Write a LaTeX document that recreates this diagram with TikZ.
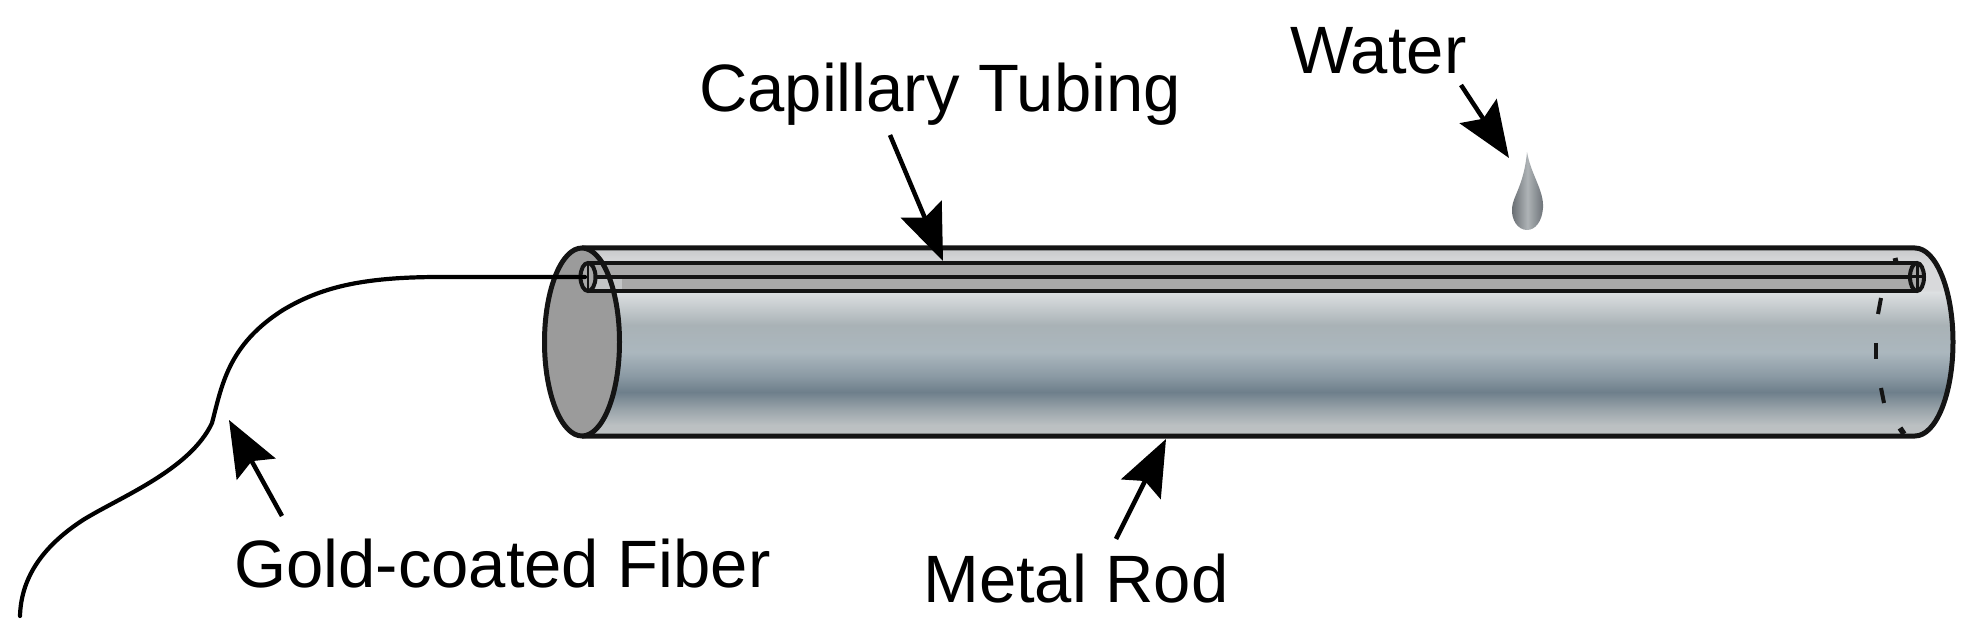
\documentclass[tikz,border=0pt]{standalone}
\usepackage{fontspec}
\setmainfont{Liberation Sans}
\usetikzlibrary{arrows.meta}
\definecolor{inkc}{HTML}{141414}
\definecolor{capc}{HTML}{9B9B9B}
\definecolor{tubec}{HTML}{A9A9A9}
\definecolor{tubel}{HTML}{C4C6C7}
\definecolor{ra}{HTML}{BDC1C2}
\definecolor{rb}{HTML}{BBC0C2}
\definecolor{rc}{HTML}{9BA5AB}
\definecolor{rd}{HTML}{6E7F8B}
\definecolor{re}{HTML}{8B9AA4}
\definecolor{rf}{HTML}{ABB7BE}
\definecolor{rg}{HTML}{A9B2B6}
\definecolor{rh}{HTML}{DDE0E2}
\definecolor{ri}{HTML}{D8D9DB}
\definecolor{rj}{HTML}{C8C9CB}
\definecolor{da}{HTML}{666B70}
\definecolor{db}{HTML}{AEB3B6}
\definecolor{dc}{HTML}{6A7075}
\pgfdeclareverticalshading{rodshade}{100bp}{
  color(0bp)=(ra);
  color(25bp)=(ra);
  color(27.9bp)=(rb);
  color(31.9bp)=(rc);
  color(36.7bp)=(rd);
  color(41bp)=(re);
  color(47.3bp)=(rf);
  color(54.5bp)=(rg);
  color(63.3bp)=(rh);
  color(64bp)=(ri);
  color(71bp)=(ri);
  color(75bp)=(rj);
  color(100bp)=(rj)}
\pgfdeclarehorizontalshading{dropshade}{100bp}{
  color(0bp)=(da);
  color(25bp)=(da);
  color(50bp)=(db);
  color(75bp)=(dc);
  color(100bp)=(dc)}
\tikzset{
  x=1pt,y=-1pt,
  lbl/.style={font=\fontsize{67}{72}\selectfont,text=black,inner sep=0pt,anchor=base west},
  outline/.style={draw=inkc,line width=5pt},
  tubeline/.style={draw=inkc,line width=4.6pt},
  fiber/.style={draw=black,line width=4.2pt,line cap=round},
  pointer/.style={draw=black,line width=4.5pt,-{Stealth[length=56pt,width=44pt,inset=9pt]}},
  backpart/.style={draw=inkc,line width=4pt}
}
\begin{document}
\begin{tikzpicture}
\useasboundingbox (0,0) rectangle (1966,636);
% rod body
\path[shading=rodshade] (582,248) -- (1915,248) arc[start angle=-90,end angle=90,x radius=38,y radius=94] -- (582,436) -- cycle;
\draw[outline] (582,248) -- (1915,248) arc[start angle=-90,end angle=90,x radius=38,y radius=94] -- (582,436);
% end cap fill
\fill[capc] (582,342) ellipse[x radius=37.5,y radius=94];
% capillary tube
\fill[tubec] (588,263) rectangle (1917,291);
\fill[tubel] (590,279) rectangle (622,291);
\draw[tubeline] (588,263) -- (1917,263);
\draw[tubeline] (588,291) -- (1917,291);
\draw[tubeline] (588,277) -- (1917,277);
% tube ends
\draw[tubeline,line width=4pt,fill=tubec] (588,277) ellipse[x radius=7.5,y radius=14];
\draw[line width=2.5pt,draw=inkc] (588,263) -- (588,291);
\draw[tubeline,line width=4pt,fill=tubec] (1917,277) ellipse[x radius=7,y radius=14];
\draw[line width=3pt,draw=inkc] (1917,263) -- (1917,291) (1910,277) -- (1924,277);
% hidden far rim
\draw[backpart] (1881,298) -- (1878,314);
\draw[backpart] (1875.5,343) -- (1875.5,359);
\draw[backpart] (1881,388) -- (1884,403);
\draw[backpart,line width=5pt] (1895,258) -- (1896,262);
\draw[backpart,line width=5.5pt] (1900,428) -- (1904,434);
% end cap outline
\draw[outline] (582,342) ellipse[x radius=37.5,y radius=94];
% fibre
\coordinate (fibA) at (20,616);
\coordinate (fibB) at (585,277);
\draw[fiber] (fibA) .. controls (21,580) and (40,548) .. (83,520)
  .. controls (120,497) and (190,470) .. (212,423)
  .. controls (222,385) and (228,345) .. (283,310)
  .. controls (320,288) and (360,277) .. (440,277) -- (fibB);
% drop
\path[shading=dropshade] (1527,152) .. controls (1531,175) and (1544,190) .. (1543,208)
  .. controls (1542,222) and (1535,230) .. (1527,230)
  .. controls (1518,230) and (1511,220) .. (1512,208)
  .. controls (1513,196) and (1524,185) .. (1527,152) -- cycle;
% labels
\node[lbl] (lcap) at (699,112) {Capillary Tubing};
\node[lbl] (lwat) at (1290,74) {Water};
\node[lbl] (lgold) at (234,587) {Gold-coated Fiber};
\node[lbl] (lrod) at (923,602) {Metal Rod};
% pointers
\coordinate (capT) at (890,135); \coordinate (capH) at (943,261);
\coordinate (watT) at (1461,85); \coordinate (watH) at (1509,158);
\coordinate (goldT) at (282,516); \coordinate (goldH) at (229,420);
\coordinate (rodT) at (1116,539); \coordinate (rodH) at (1166,439);
\draw[pointer] (capT) -- (capH);
\draw[pointer] (watT) -- (watH);
\draw[pointer] (goldT) -- (goldH);
\draw[pointer] (rodT) -- (rodH);
\end{tikzpicture}
\end{document}
